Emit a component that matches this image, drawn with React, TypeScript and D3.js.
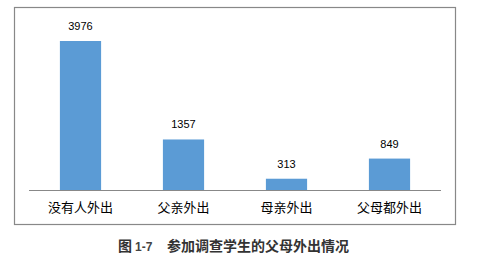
import React from "react";
import * as d3 from "d3";

const categories = ["没有人外出", "父亲外出", "母亲外出", "父母都外出"];
const values = [3976, 1357, 313, 849];
const titlePrefix = "图";
const titleNumber = "1-7";
const titleText = "参加调查学生的父母外出情况";

export default function App() {
  const W = 488, H = 260;
  const x = d3.scaleBand<string>().domain(categories).range([29, 441]).paddingInner(0.6).paddingOuter(0.3);
  const y = d3.scaleLinear().domain([0, 3976]).range([190.5, 41]);
  const font = "'Noto Sans CJK SC', 'Noto Sans', sans-serif";
  return (
    <svg width={W} height={H} style={{ position: "absolute", left: 0, top: 0, background: "#fff" }}>
      <rect x={14.5} y={7.5} width={441} height={217} fill="#fff" stroke="#888" strokeWidth={1.2} />
      {categories.map((c, i) => (
        <g key={c}>
          <rect x={x(c)} y={y(values[i])} width={x.bandwidth()} height={y(0) - y(values[i])} fill="#5B9BD5" />
          <text x={x(c)! + x.bandwidth() / 2} y={y(values[i]) - 11} textAnchor="middle" fontSize={11} fontFamily="'Liberation Sans', Arial, sans-serif" fill="#000">{values[i]}</text>
          <text x={x(c)! + x.bandwidth() / 2} y={212} textAnchor="middle" fontSize={13} fontFamily={font} fill="#000">{c}</text>
        </g>
      ))}
      <line x1={29} x2={441} y1={190.5} y2={190.5} stroke="#888" strokeWidth={1} />
      <text x={118} y={251} fontSize={14} fontWeight="bold" fontFamily={font} fill="#333">
        <tspan>{titlePrefix}</tspan>
        <tspan dx={3} fontSize={12} fontFamily="'Liberation Sans', Arial, sans-serif" fill="#444">{titleNumber}</tspan>
        <tspan x={167}>{titleText}</tspan>
      </text>
    </svg>
  );
}
